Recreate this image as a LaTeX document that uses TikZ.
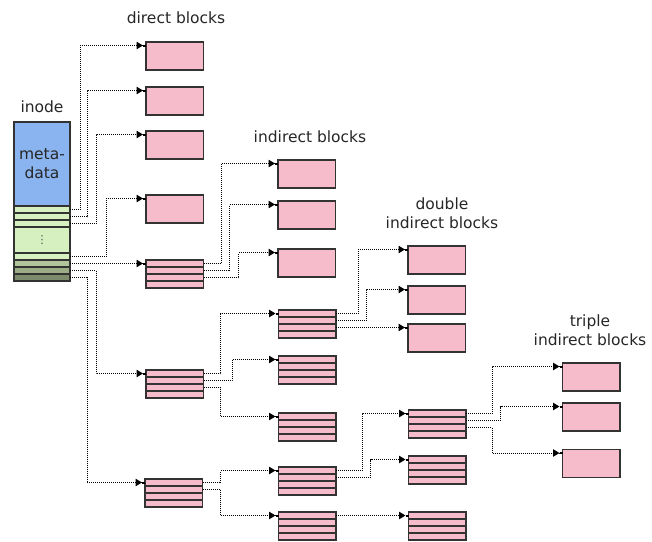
\documentclass[tikz,border=0pt]{standalone}
\usepackage{fontspec}
\setmainfont{DejaVu Sans}
\usetikzlibrary{arrows.meta,calc}

\definecolor{metablue}{HTML}{8AB4F0}
\definecolor{ptrgreen}{HTML}{D6F0C0}
\definecolor{singlegreen}{HTML}{B2C49A}
\definecolor{doublegreen}{HTML}{9CAC84}
\definecolor{triplegreen}{HTML}{7F8C6C}
\definecolor{blockpink}{HTML}{F6BCCB}
\definecolor{edge}{HTML}{333333}

\tikzset{
  blk/.style={draw=edge, line width=1.2pt, fill=blockpink, anchor=north west,
    minimum width=57.5pt, minimum height=28pt, inner sep=0pt, outer sep=0pt},
  divider/.style={draw=edge, line width=1.2pt},
  inodepart/.style={draw=edge, line width=1.2pt, anchor=north west,
    minimum width=56pt, inner sep=0pt, outer sep=0pt},
  link/.style={draw=black, line width=1pt, densely dotted,
    -{Triangle[length=6.5pt,width=7.5pt] Rectangle[length=3pt,width=2pt]}},
  caption/.style={font=\fontsize{15.5}{19}\selectfont, align=center, text=black!85},
}

% a plain data block and a block of four pointer rows
\newcommand\plainblock[3]{%
  \node[blk] (#1) at (#2,#3) {};
  \coordinate (#1-in) at ($(#1.north west)+(0,3.5)$);}
\newcommand\rowblock[3]{%
  \node[blk] (#1) at (#2,#3) {};
  \foreach \k in {1,2,3}
    \draw[divider] ($(#1.north west)+(0,7*\k)$) -- ($(#1.north east)+(0,7*\k)$);
  \coordinate (#1-in) at ($(#1.north west)+(0,3.5)$);
  \coordinate (#1-r1) at ($(#1.north east)+(0,3.5)$);
  \coordinate (#1-r2) at ($(#1.north east)+(0,10.5)$);
  \coordinate (#1-r3) at ($(#1.north east)+(0,17.5)$);
  \coordinate (#1-r4) at ($(#1.north east)+(0,24.5)$);}

\begin{document}
\begin{tikzpicture}[x=1pt,y=-1pt]
\useasboundingbox (0,0) rectangle (652,541);

% captions
\node[caption] (capdirect) at (176,18) {direct blocks};
\node[caption] (capind) at (310,137) {indirect blocks};
\node[caption] (capdouble) at (442,213.5) {double\\indirect blocks};
\node[caption] (captriple) at (590,330) {triple\\indirect blocks};
\node[caption] (capinode) at (42,107) {inode};

% the inode
\node[inodepart, fill=metablue, minimum height=84pt, caption] (meta) at (14,122) {meta-\\data};
\node[inodepart, fill=ptrgreen, minimum height=7pt] (ir1) at (14,206) {};
\node[inodepart, fill=ptrgreen, minimum height=7pt] (ir2) at (14,213) {};
\node[inodepart, fill=ptrgreen, minimum height=7pt] (ir3) at (14,220) {};
\node[inodepart, fill=ptrgreen, minimum height=26pt, text=black!70, font=\fontsize{11}{11}\selectfont] (irmid) at (14,227) {⋮};
\node[inodepart, fill=ptrgreen, minimum height=7pt] (ir4) at (14,253) {};
\node[inodepart, fill=singlegreen, minimum height=7pt] (irs) at (14,260) {};
\node[inodepart, fill=doublegreen, minimum height=7pt] (ird) at (14,267) {};
\node[inodepart, fill=triplegreen, minimum height=7pt] (irt) at (14,274) {};

% direct blocks
\plainblock{D1}{146}{42}
\plainblock{D2}{146}{87}
\plainblock{D3}{146}{131}
\plainblock{D4}{146}{195}

% single indirect
\rowblock{S}{146}{260}
\plainblock{I1}{278}{160}
\plainblock{I2}{278}{201}
\plainblock{I3}{278}{249}

% double indirect
\rowblock{DB}{146}{370}
\rowblock{DI1}{278.5}{310}
\rowblock{DI2}{278.5}{356}
\rowblock{DI3}{278.5}{413}
\plainblock{DD1}{408}{246}
\plainblock{DD2}{408}{286}
\plainblock{DD3}{408}{324}

% triple indirect
\rowblock{TB}{145}{479}
\rowblock{TD1}{278.5}{467}
\rowblock{TD2}{278.5}{512}
\rowblock{TDI1}{408.5}{410}
\rowblock{TDI2}{408.5}{456}
\rowblock{TDI3}{408.5}{512}
\plainblock{TT1}{562.5}{363}
\plainblock{TT2}{562.5}{403}
\plainblock{TT3}{562.5}{449.5}

% pointers out of the inode
\draw[link] (ir1.east) -- ++(10,0) |- (D1-in);
\draw[link] (ir2.east) -- ++(17,0) |- (D2-in);
\draw[link] (ir3.east) -- ++(26,0) |- (D3-in);
\draw[link] (ir4.east) -- ++(36,0) |- (D4-in);
\draw[link] (irs.east) -- (S-in);
\draw[link] (ird.east) -- ++(26,0) |- (DB-in);
\draw[link] (irt.east) -- ++(17,0) |- (TB-in);

% single indirect pointers
\draw[link] (S-r1) -- ++(17.5,0) |- (I1-in);
\draw[link] (S-r2) -- ++(26,0) |- (I2-in);
\draw[link] (S-r3) -- ++(35,0) |- (I3-in);

% double indirect pointers
\draw[link] (DB-r1) -- ++(17,0) |- (DI1-in);
\draw[link] (DB-r2) -- ++(28.5,0) |- (DI2-in);
\draw[link] (DB-r3) -- ++(17,0) |- (DI3-in);
\draw[link] (DI1-r1) -- ++(22,0) |- (DD1-in);
\draw[link] (DI1-r2) -- ++(30,0) |- (DD2-in);
\draw[link] (DI1-r3) -- (DD3-in);

% triple indirect pointers
\draw[link] (TB-r1) -- ++(18,0) |- (TD1-in);
\draw[link] (TB-r2) -- ++(18,0) |- (TD2-in);
\draw[link] (TD1-r1) -- ++(26,0) |- (TDI1-in);
\draw[link] (TD1-r2) -- ++(34.5,0) |- (TDI2-in);
\draw[link] (TD2-r1) -- (TDI3-in);
\draw[link] (TDI1-r1) -- ++(26,0) |- (TT1-in);
\draw[link] (TDI1-r2) -- ++(34.5,0) |- (TT2-in);
\draw[link] (TDI1-r3) -- ++(26,0) |- (TT3-in);
\end{tikzpicture}
\end{document}
